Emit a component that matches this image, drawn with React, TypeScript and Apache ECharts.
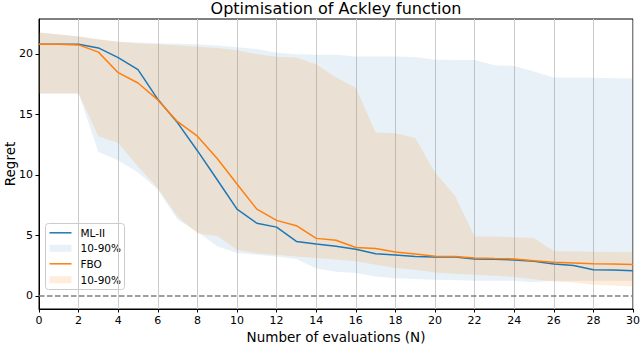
import React, { useEffect, useRef } from "react";
import * as echarts from "echarts";

const categories = [
  "0","1","2","3","4","5","6","7","8","9","10","11","12","13","14","15",
  "16","17","18","19","20","21","22","23","24","25","26","27","28","29","30",
];

const mlMedian = [20.8, 20.8, 20.8, 20.5, 19.7, 18.7, 16.25, 14.3, 12.0, 9.6, 7.17, 6.0, 5.68, 4.5, 4.28, 4.1, 3.85, 3.47, 3.38, 3.25, 3.2, 3.2, 3.05, 3.02, 2.97, 2.85, 2.63, 2.5, 2.15, 2.13, 2.08];
const mlUpper = [21.77, 21.6, 21.45, 21.2, 21.0, 20.95, 20.88, 20.84, 20.8, 20.7, 20.55, 20.4, 20.1, 19.98, 19.93, 19.93, 19.78, 19.78, 19.78, 19.75, 19.53, 19.5, 19.5, 19.07, 19.0, 18.55, 18.05, 18.05, 18.03, 18.0, 18.0];
const mlLower = [16.72, 16.72, 16.72, 11.9, 11.2, 10.2, 8.8, 6.3, 5.3, 4.1, 3.55, 3.4, 3.25, 3.05, 2.25, 2.0, 1.88, 1.6, 1.46, 1.4, 1.32, 1.3, 1.25, 1.24, 1.24, 1.13, 1.25, 1.25, 1.25, 1.25, 1.25];

const fboMedian = [20.8, 20.8, 20.75, 20.15, 18.45, 17.6, 16.2, 14.4, 13.2, 11.35, 9.25, 7.17, 6.24, 5.8, 4.75, 4.6, 4.0, 3.92, 3.62, 3.45, 3.28, 3.25, 3.12, 3.08, 3.05, 2.9, 2.78, 2.72, 2.66, 2.64, 2.6];
const fboUpper = [21.77, 21.6, 21.44, 21.22, 21.0, 20.86, 20.8, 20.7, 20.6, 20.5, 20.3, 19.98, 19.76, 19.7, 19.15, 18.05, 17.2, 13.5, 13.45, 13.05, 10.2, 8.3, 4.9, 4.9, 4.85, 4.75, 3.7, 3.67, 3.64, 3.62, 3.6];
const fboLower = [16.72, 16.72, 16.72, 13.2, 12.64, 10.7, 8.9, 6.56, 5.15, 4.95, 3.8, 3.53, 3.4, 3.25, 3.12, 3.0, 2.85, 2.57, 2.29, 2.15, 1.93, 1.82, 1.74, 1.65, 1.55, 1.38, 1.19, 1.1, 0.91, 0.86, 0.77];

const yTicks = [0, 5, 10, 15, 20];

const BLUE = "#1f77b4";
const ORANGE = "#ff7f0e";
const BLUE_FILL = "rgba(31,119,180,0.1)";
const ORANGE_FILL = "rgba(255,127,14,0.15)";
const FONT = "DejaVu Sans";

export default function App() {
  const ref = useRef<HTMLDivElement>(null);
  useEffect(() => {
    document.body.style.margin = "0";
    const chart = echarts.init(ref.current!, null, { renderer: "svg" });
    const diff = (u: number[], l: number[]) => u.map((v, i) => +(v - l[i]).toFixed(4));
    const hidden = { opacity: 0, width: 0 };
    const legendText = (text: string, y: number) => ({
      type: "text", x: 35, y,
      style: { text, fontFamily: FONT, fontSize: 10.5, fill: "#000", verticalAlign: "middle" },
    });
    chart.setOption({
      animation: false,
      backgroundColor: "#ffffff",
      title: {
        text: "Optimisation of Ackley function",
        left: 336,
        top: 0,
        padding: 0,
        textAlign: "center",
        textStyle: { fontFamily: FONT, fontSize: 16, fontWeight: "normal", color: "#000" },
      },
      grid: {
        left: 39,
        right: 7,
        top: 19,
        bottom: 52,
        containLabel: false,
        outerBoundsMode: "none",
        show: true,
        borderColor: "#000",
        borderWidth: 1,
        backgroundColor: "transparent",
      },
      xAxis: {
        type: "category",
        data: categories,
        boundaryGap: false,
        name: "Number of evaluations (N)",
        nameLocation: "middle",
        nameGap: 21,
        nameMoveOverlap: false,
        nameTextStyle: { fontFamily: FONT, fontSize: 13.5, color: "#000" },
        axisLine: { show: true, onZero: false, lineStyle: { color: "#000", width: 1 } },
        axisTick: { show: true, interval: 1, length: 3.5, lineStyle: { color: "#000" } },
        axisLabel: { interval: 1, margin: 6, fontFamily: FONT, fontSize: 11, color: "#000" },
        splitLine: { show: true, interval: 1, lineStyle: { color: "#cccccc", width: 1 } },
      },
      yAxis: {
        type: "value",
        min: -1.09,
        max: 22.89,
        name: "Regret",
        nameLocation: "middle",
        nameGap: 22,
        nameMoveOverlap: false,
        nameTextStyle: { fontFamily: FONT, fontSize: 13.5, color: "#000" },
        axisLine: { show: true, onZero: false, lineStyle: { color: "#000", width: 1 } },
        axisTick: { show: true, length: 3.5, customValues: yTicks, lineStyle: { color: "#000" } },
        axisLabel: { margin: 6, customValues: yTicks, fontFamily: FONT, fontSize: 11, color: "#000" },
        splitLine: { show: false },
      },
      series: [
        {
          name: "mlBase", type: "line", stack: "ml", data: mlLower, symbol: "none",
          lineStyle: hidden, silent: true,
        },
        {
          name: "10-90%", type: "line", stack: "ml", data: diff(mlUpper, mlLower), symbol: "none",
          lineStyle: hidden, areaStyle: { color: BLUE_FILL, opacity: 1 }, silent: true,
        },
        {
          name: "fboBase", type: "line", stack: "fbo", data: fboLower, symbol: "none",
          lineStyle: hidden, silent: true,
        },
        {
          name: "10-90% FBO", type: "line", stack: "fbo", data: diff(fboUpper, fboLower), symbol: "none",
          lineStyle: hidden, areaStyle: { color: ORANGE_FILL, opacity: 1 }, silent: true,
        },
        {
          name: "ML-II", type: "line", data: mlMedian, symbol: "none",
          lineStyle: { color: BLUE, width: 1.5 },
          markLine: {
            silent: true,
            symbol: ["none", "none"],
            label: { show: false },
            lineStyle: { color: "#808080", width: 1.5, type: [5.5, 2.5] },
            data: [{ yAxis: 0 }],
          },
        },
        {
          name: "FBO", type: "line", data: fboMedian, symbol: "none",
          lineStyle: { color: ORANGE, width: 1.5 },
        },
      ],
      graphic: [
        {
          type: "group",
          left: 45,
          top: 223,
          children: [
            {
              type: "rect",
              shape: { x: 0, y: 0, width: 79, height: 66, r: 3 },
              style: { fill: "rgba(255,255,255,0.8)", stroke: "#cccccc", lineWidth: 1 },
            },
            { type: "line", shape: { x1: 4, y1: 9.3, x2: 26, y2: 9.3 }, style: { stroke: BLUE, lineWidth: 1.5 } },
            { type: "rect", shape: { x: 4, y: 21.3, width: 22, height: 7 }, style: { fill: BLUE_FILL } },
            { type: "line", shape: { x1: 4, y1: 40.3, x2: 26, y2: 40.3 }, style: { stroke: ORANGE, lineWidth: 1.5 } },
            { type: "rect", shape: { x: 4, y: 52.7, width: 22, height: 7 }, style: { fill: ORANGE_FILL } },
            legendText("ML-II", 9.3),
            legendText("10-90%", 24.7),
            legendText("FBO", 40.3),
            legendText("10-90%", 56),
          ],
        },
      ],
    });
    return () => chart.dispose();
  }, []);
  return <div ref={ref} style={{ width: 640, height: 361 }} />;
}
